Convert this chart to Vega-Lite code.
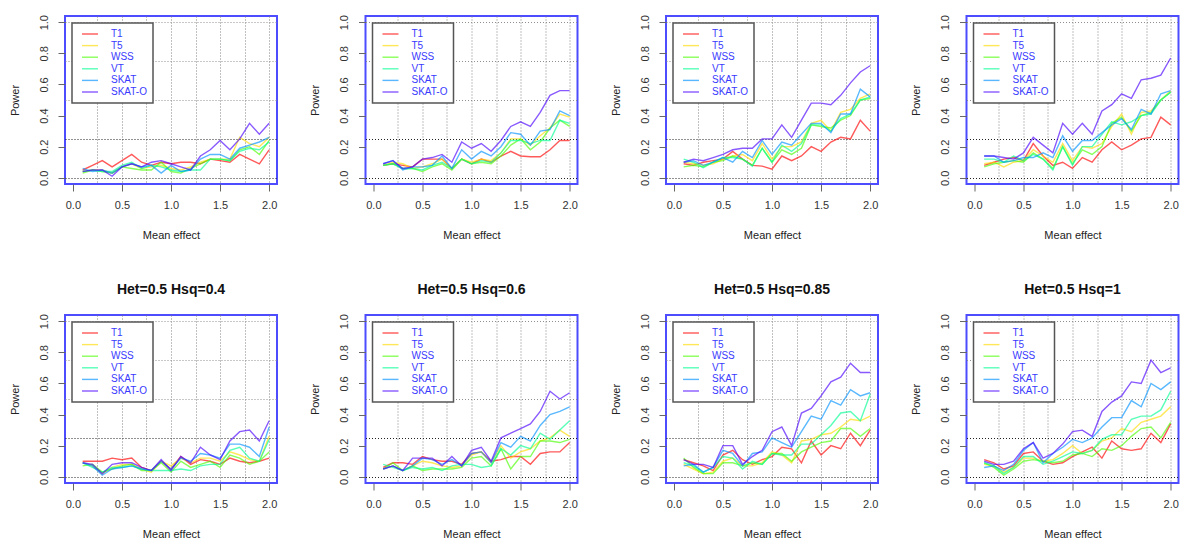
{
"$schema": "https://vega.github.io/schema/vega-lite/v6.json",
"padding": {"left": 8, "top": 13, "right": 4, "bottom": 0},
"datasets": {
"p1": [
{"m":"T1","x":0.1,"y":0.05},{"m":"T1","x":0.2,"y":0.08},{"m":"T1","x":0.3,"y":0.11},{"m":"T1","x":0.4,"y":0.07},{"m":"T1","x":0.5,"y":0.11},{"m":"T1","x":0.6,"y":0.15},{"m":"T1","x":0.7,"y":0.10},{"m":"T1","x":0.8,"y":0.08},{"m":"T1","x":0.9,"y":0.10},{"m":"T1","x":1.0,"y":0.09},{"m":"T1","x":1.1,"y":0.10},{"m":"T1","x":1.2,"y":0.10},{"m":"T1","x":1.3,"y":0.09},{"m":"T1","x":1.4,"y":0.12},{"m":"T1","x":1.5,"y":0.11},{"m":"T1","x":1.6,"y":0.10},{"m":"T1","x":1.7,"y":0.15},{"m":"T1","x":1.8,"y":0.12},{"m":"T1","x":1.9,"y":0.09},{"m":"T1","x":2.0,"y":0.18},
{"m":"T5","x":0.1,"y":0.04},{"m":"T5","x":0.2,"y":0.05},{"m":"T5","x":0.3,"y":0.05},{"m":"T5","x":0.4,"y":0.03},{"m":"T5","x":0.5,"y":0.07},{"m":"T5","x":0.6,"y":0.09},{"m":"T5","x":0.7,"y":0.06},{"m":"T5","x":0.8,"y":0.07},{"m":"T5","x":0.9,"y":0.08},{"m":"T5","x":1.0,"y":0.06},{"m":"T5","x":1.1,"y":0.05},{"m":"T5","x":1.2,"y":0.07},{"m":"T5","x":1.3,"y":0.10},{"m":"T5","x":1.4,"y":0.12},{"m":"T5","x":1.5,"y":0.12},{"m":"T5","x":1.6,"y":0.12},{"m":"T5","x":1.7,"y":0.26},{"m":"T5","x":1.8,"y":0.22},{"m":"T5","x":1.9,"y":0.20},{"m":"T5","x":2.0,"y":0.26},
{"m":"WSS","x":0.1,"y":0.03},{"m":"WSS","x":0.2,"y":0.05},{"m":"WSS","x":0.3,"y":0.04},{"m":"WSS","x":0.4,"y":0.03},{"m":"WSS","x":0.5,"y":0.07},{"m":"WSS","x":0.6,"y":0.06},{"m":"WSS","x":0.7,"y":0.05},{"m":"WSS","x":0.8,"y":0.05},{"m":"WSS","x":0.9,"y":0.10},{"m":"WSS","x":1.0,"y":0.04},{"m":"WSS","x":1.1,"y":0.03},{"m":"WSS","x":1.2,"y":0.06},{"m":"WSS","x":1.3,"y":0.09},{"m":"WSS","x":1.4,"y":0.12},{"m":"WSS","x":1.5,"y":0.12},{"m":"WSS","x":1.6,"y":0.11},{"m":"WSS","x":1.7,"y":0.18},{"m":"WSS","x":1.8,"y":0.20},{"m":"WSS","x":1.9,"y":0.15},{"m":"WSS","x":2.0,"y":0.24},
{"m":"VT","x":0.1,"y":0.04},{"m":"VT","x":0.2,"y":0.05},{"m":"VT","x":0.3,"y":0.04},{"m":"VT","x":0.4,"y":0.04},{"m":"VT","x":0.5,"y":0.08},{"m":"VT","x":0.6,"y":0.10},{"m":"VT","x":0.7,"y":0.06},{"m":"VT","x":0.8,"y":0.08},{"m":"VT","x":0.9,"y":0.07},{"m":"VT","x":1.0,"y":0.05},{"m":"VT","x":1.1,"y":0.04},{"m":"VT","x":1.2,"y":0.05},{"m":"VT","x":1.3,"y":0.05},{"m":"VT","x":1.4,"y":0.12},{"m":"VT","x":1.5,"y":0.12},{"m":"VT","x":1.6,"y":0.11},{"m":"VT","x":1.7,"y":0.17},{"m":"VT","x":1.8,"y":0.19},{"m":"VT","x":1.9,"y":0.18},{"m":"VT","x":2.0,"y":0.23},
{"m":"SKAT","x":0.1,"y":0.06},{"m":"SKAT","x":0.2,"y":0.04},{"m":"SKAT","x":0.3,"y":0.05},{"m":"SKAT","x":0.4,"y":0.03},{"m":"SKAT","x":0.5,"y":0.07},{"m":"SKAT","x":0.6,"y":0.09},{"m":"SKAT","x":0.7,"y":0.07},{"m":"SKAT","x":0.8,"y":0.08},{"m":"SKAT","x":0.9,"y":0.03},{"m":"SKAT","x":1.0,"y":0.08},{"m":"SKAT","x":1.1,"y":0.04},{"m":"SKAT","x":1.2,"y":0.05},{"m":"SKAT","x":1.3,"y":0.12},{"m":"SKAT","x":1.4,"y":0.15},{"m":"SKAT","x":1.5,"y":0.15},{"m":"SKAT","x":1.6,"y":0.12},{"m":"SKAT","x":1.7,"y":0.19},{"m":"SKAT","x":1.8,"y":0.21},{"m":"SKAT","x":1.9,"y":0.23},{"m":"SKAT","x":2.0,"y":0.26},
{"m":"SKAT-O","x":0.1,"y":0.04},{"m":"SKAT-O","x":0.2,"y":0.05},{"m":"SKAT-O","x":0.3,"y":0.05},{"m":"SKAT-O","x":0.4,"y":0.01},{"m":"SKAT-O","x":0.5,"y":0.07},{"m":"SKAT-O","x":0.6,"y":0.09},{"m":"SKAT-O","x":0.7,"y":0.07},{"m":"SKAT-O","x":0.8,"y":0.10},{"m":"SKAT-O","x":0.9,"y":0.11},{"m":"SKAT-O","x":1.0,"y":0.09},{"m":"SKAT-O","x":1.1,"y":0.07},{"m":"SKAT-O","x":1.2,"y":0.05},{"m":"SKAT-O","x":1.3,"y":0.14},{"m":"SKAT-O","x":1.4,"y":0.18},{"m":"SKAT-O","x":1.5,"y":0.24},{"m":"SKAT-O","x":1.6,"y":0.18},{"m":"SKAT-O","x":1.7,"y":0.25},{"m":"SKAT-O","x":1.8,"y":0.35},{"m":"SKAT-O","x":1.9,"y":0.28},{"m":"SKAT-O","x":2.0,"y":0.35}
],
"p2": [
{"m":"T1","x":0.1,"y":0.08},{"m":"T1","x":0.2,"y":0.09},{"m":"T1","x":0.3,"y":0.08},{"m":"T1","x":0.4,"y":0.07},{"m":"T1","x":0.5,"y":0.12},{"m":"T1","x":0.6,"y":0.12},{"m":"T1","x":0.7,"y":0.12},{"m":"T1","x":0.8,"y":0.06},{"m":"T1","x":0.9,"y":0.12},{"m":"T1","x":1.0,"y":0.09},{"m":"T1","x":1.1,"y":0.12},{"m":"T1","x":1.2,"y":0.10},{"m":"T1","x":1.3,"y":0.14},{"m":"T1","x":1.4,"y":0.17},{"m":"T1","x":1.5,"y":0.14},{"m":"T1","x":1.6,"y":0.135},{"m":"T1","x":1.7,"y":0.135},{"m":"T1","x":1.8,"y":0.18},{"m":"T1","x":1.9,"y":0.24},{"m":"T1","x":2.0,"y":0.24},
{"m":"T5","x":0.1,"y":0.08},{"m":"T5","x":0.2,"y":0.10},{"m":"T5","x":0.3,"y":0.09},{"m":"T5","x":0.4,"y":0.06},{"m":"T5","x":0.5,"y":0.07},{"m":"T5","x":0.6,"y":0.09},{"m":"T5","x":0.7,"y":0.12},{"m":"T5","x":0.8,"y":0.06},{"m":"T5","x":0.9,"y":0.12},{"m":"T5","x":1.0,"y":0.10},{"m":"T5","x":1.1,"y":0.12},{"m":"T5","x":1.2,"y":0.11},{"m":"T5","x":1.3,"y":0.16},{"m":"T5","x":1.4,"y":0.25},{"m":"T5","x":1.5,"y":0.25},{"m":"T5","x":1.6,"y":0.21},{"m":"T5","x":1.7,"y":0.27},{"m":"T5","x":1.8,"y":0.32},{"m":"T5","x":1.9,"y":0.41},{"m":"T5","x":2.0,"y":0.39},
{"m":"WSS","x":0.1,"y":0.08},{"m":"WSS","x":0.2,"y":0.09},{"m":"WSS","x":0.3,"y":0.06},{"m":"WSS","x":0.4,"y":0.06},{"m":"WSS","x":0.5,"y":0.04},{"m":"WSS","x":0.6,"y":0.07},{"m":"WSS","x":0.7,"y":0.09},{"m":"WSS","x":0.8,"y":0.05},{"m":"WSS","x":0.9,"y":0.12},{"m":"WSS","x":1.0,"y":0.09},{"m":"WSS","x":1.1,"y":0.10},{"m":"WSS","x":1.2,"y":0.09},{"m":"WSS","x":1.3,"y":0.14},{"m":"WSS","x":1.4,"y":0.21},{"m":"WSS","x":1.5,"y":0.25},{"m":"WSS","x":1.6,"y":0.18},{"m":"WSS","x":1.7,"y":0.23},{"m":"WSS","x":1.8,"y":0.32},{"m":"WSS","x":1.9,"y":0.37},{"m":"WSS","x":2.0,"y":0.33},
{"m":"VT","x":0.1,"y":0.08},{"m":"VT","x":0.2,"y":0.09},{"m":"VT","x":0.3,"y":0.06},{"m":"VT","x":0.4,"y":0.06},{"m":"VT","x":0.5,"y":0.05},{"m":"VT","x":0.6,"y":0.08},{"m":"VT","x":0.7,"y":0.10},{"m":"VT","x":0.8,"y":0.06},{"m":"VT","x":0.9,"y":0.12},{"m":"VT","x":1.0,"y":0.09},{"m":"VT","x":1.1,"y":0.11},{"m":"VT","x":1.2,"y":0.10},{"m":"VT","x":1.3,"y":0.16},{"m":"VT","x":1.4,"y":0.24},{"m":"VT","x":1.5,"y":0.24},{"m":"VT","x":1.6,"y":0.22},{"m":"VT","x":1.7,"y":0.24},{"m":"VT","x":1.8,"y":0.24},{"m":"VT","x":1.9,"y":0.37},{"m":"VT","x":2.0,"y":0.35},
{"m":"SKAT","x":0.1,"y":0.09},{"m":"SKAT","x":0.2,"y":0.11},{"m":"SKAT","x":0.3,"y":0.05},{"m":"SKAT","x":0.4,"y":0.07},{"m":"SKAT","x":0.5,"y":0.07},{"m":"SKAT","x":0.6,"y":0.08},{"m":"SKAT","x":0.7,"y":0.14},{"m":"SKAT","x":0.8,"y":0.06},{"m":"SKAT","x":0.9,"y":0.18},{"m":"SKAT","x":1.0,"y":0.12},{"m":"SKAT","x":1.1,"y":0.17},{"m":"SKAT","x":1.2,"y":0.14},{"m":"SKAT","x":1.3,"y":0.20},{"m":"SKAT","x":1.4,"y":0.29},{"m":"SKAT","x":1.5,"y":0.28},{"m":"SKAT","x":1.6,"y":0.21},{"m":"SKAT","x":1.7,"y":0.30},{"m":"SKAT","x":1.8,"y":0.31},{"m":"SKAT","x":1.9,"y":0.43},{"m":"SKAT","x":2.0,"y":0.40},
{"m":"SKAT-O","x":0.1,"y":0.09},{"m":"SKAT-O","x":0.2,"y":0.11},{"m":"SKAT-O","x":0.3,"y":0.06},{"m":"SKAT-O","x":0.4,"y":0.07},{"m":"SKAT-O","x":0.5,"y":0.12},{"m":"SKAT-O","x":0.6,"y":0.13},{"m":"SKAT-O","x":0.7,"y":0.15},{"m":"SKAT-O","x":0.8,"y":0.10},{"m":"SKAT-O","x":0.9,"y":0.23},{"m":"SKAT-O","x":1.0,"y":0.19},{"m":"SKAT-O","x":1.1,"y":0.22},{"m":"SKAT-O","x":1.2,"y":0.17},{"m":"SKAT-O","x":1.3,"y":0.24},{"m":"SKAT-O","x":1.4,"y":0.33},{"m":"SKAT-O","x":1.5,"y":0.36},{"m":"SKAT-O","x":1.6,"y":0.33},{"m":"SKAT-O","x":1.7,"y":0.42},{"m":"SKAT-O","x":1.8,"y":0.53},{"m":"SKAT-O","x":1.9,"y":0.56},{"m":"SKAT-O","x":2.0,"y":0.56}
],
"p3": [
{"m":"T1","x":0.1,"y":0.09},{"m":"T1","x":0.2,"y":0.08},{"m":"T1","x":0.3,"y":0.10},{"m":"T1","x":0.4,"y":0.11},{"m":"T1","x":0.5,"y":0.12},{"m":"T1","x":0.6,"y":0.17},{"m":"T1","x":0.7,"y":0.12},{"m":"T1","x":0.8,"y":0.08},{"m":"T1","x":0.9,"y":0.075},{"m":"T1","x":1.0,"y":0.055},{"m":"T1","x":1.1,"y":0.14},{"m":"T1","x":1.2,"y":0.11},{"m":"T1","x":1.3,"y":0.14},{"m":"T1","x":1.4,"y":0.20},{"m":"T1","x":1.5,"y":0.17},{"m":"T1","x":1.6,"y":0.23},{"m":"T1","x":1.7,"y":0.26},{"m":"T1","x":1.8,"y":0.25},{"m":"T1","x":1.9,"y":0.37},{"m":"T1","x":2.0,"y":0.30},
{"m":"T5","x":0.1,"y":0.10},{"m":"T5","x":0.2,"y":0.09},{"m":"T5","x":0.3,"y":0.08},{"m":"T5","x":0.4,"y":0.09},{"m":"T5","x":0.5,"y":0.12},{"m":"T5","x":0.6,"y":0.14},{"m":"T5","x":0.7,"y":0.15},{"m":"T5","x":0.8,"y":0.11},{"m":"T5","x":0.9,"y":0.22},{"m":"T5","x":1.0,"y":0.12},{"m":"T5","x":1.1,"y":0.20},{"m":"T5","x":1.2,"y":0.20},{"m":"T5","x":1.3,"y":0.23},{"m":"T5","x":1.4,"y":0.35},{"m":"T5","x":1.5,"y":0.37},{"m":"T5","x":1.6,"y":0.30},{"m":"T5","x":1.7,"y":0.42},{"m":"T5","x":1.8,"y":0.44},{"m":"T5","x":1.9,"y":0.51},{"m":"T5","x":2.0,"y":0.54},
{"m":"WSS","x":0.1,"y":0.07},{"m":"WSS","x":0.2,"y":0.08},{"m":"WSS","x":0.3,"y":0.07},{"m":"WSS","x":0.4,"y":0.10},{"m":"WSS","x":0.5,"y":0.11},{"m":"WSS","x":0.6,"y":0.14},{"m":"WSS","x":0.7,"y":0.12},{"m":"WSS","x":0.8,"y":0.08},{"m":"WSS","x":0.9,"y":0.19},{"m":"WSS","x":1.0,"y":0.10},{"m":"WSS","x":1.1,"y":0.18},{"m":"WSS","x":1.2,"y":0.15},{"m":"WSS","x":1.3,"y":0.19},{"m":"WSS","x":1.4,"y":0.34},{"m":"WSS","x":1.5,"y":0.33},{"m":"WSS","x":1.6,"y":0.32},{"m":"WSS","x":1.7,"y":0.37},{"m":"WSS","x":1.8,"y":0.40},{"m":"WSS","x":1.9,"y":0.50},{"m":"WSS","x":2.0,"y":0.51},
{"m":"VT","x":0.1,"y":0.12},{"m":"VT","x":0.2,"y":0.10},{"m":"VT","x":0.3,"y":0.065},{"m":"VT","x":0.4,"y":0.10},{"m":"VT","x":0.5,"y":0.13},{"m":"VT","x":0.6,"y":0.13},{"m":"VT","x":0.7,"y":0.12},{"m":"VT","x":0.8,"y":0.075},{"m":"VT","x":0.9,"y":0.19},{"m":"VT","x":1.0,"y":0.10},{"m":"VT","x":1.1,"y":0.21},{"m":"VT","x":1.2,"y":0.17},{"m":"VT","x":1.3,"y":0.22},{"m":"VT","x":1.4,"y":0.34},{"m":"VT","x":1.5,"y":0.34},{"m":"VT","x":1.6,"y":0.30},{"m":"VT","x":1.7,"y":0.38},{"m":"VT","x":1.8,"y":0.41},{"m":"VT","x":1.9,"y":0.50},{"m":"VT","x":2.0,"y":0.52},
{"m":"SKAT","x":0.1,"y":0.10},{"m":"SKAT","x":0.2,"y":0.11},{"m":"SKAT","x":0.3,"y":0.08},{"m":"SKAT","x":0.4,"y":0.10},{"m":"SKAT","x":0.5,"y":0.13},{"m":"SKAT","x":0.6,"y":0.10},{"m":"SKAT","x":0.7,"y":0.17},{"m":"SKAT","x":0.8,"y":0.13},{"m":"SKAT","x":0.9,"y":0.24},{"m":"SKAT","x":1.0,"y":0.15},{"m":"SKAT","x":1.1,"y":0.23},{"m":"SKAT","x":1.2,"y":0.21},{"m":"SKAT","x":1.3,"y":0.28},{"m":"SKAT","x":1.4,"y":0.35},{"m":"SKAT","x":1.5,"y":0.35},{"m":"SKAT","x":1.6,"y":0.29},{"m":"SKAT","x":1.7,"y":0.41},{"m":"SKAT","x":1.8,"y":0.41},{"m":"SKAT","x":1.9,"y":0.57},{"m":"SKAT","x":2.0,"y":0.52},
{"m":"SKAT-O","x":0.1,"y":0.10},{"m":"SKAT-O","x":0.2,"y":0.12},{"m":"SKAT-O","x":0.3,"y":0.11},{"m":"SKAT-O","x":0.4,"y":0.13},{"m":"SKAT-O","x":0.5,"y":0.15},{"m":"SKAT-O","x":0.6,"y":0.18},{"m":"SKAT-O","x":0.7,"y":0.19},{"m":"SKAT-O","x":0.8,"y":0.19},{"m":"SKAT-O","x":0.9,"y":0.25},{"m":"SKAT-O","x":1.0,"y":0.25},{"m":"SKAT-O","x":1.1,"y":0.34},{"m":"SKAT-O","x":1.2,"y":0.26},{"m":"SKAT-O","x":1.3,"y":0.37},{"m":"SKAT-O","x":1.4,"y":0.48},{"m":"SKAT-O","x":1.5,"y":0.48},{"m":"SKAT-O","x":1.6,"y":0.47},{"m":"SKAT-O","x":1.7,"y":0.53},{"m":"SKAT-O","x":1.8,"y":0.61},{"m":"SKAT-O","x":1.9,"y":0.68},{"m":"SKAT-O","x":2.0,"y":0.72}
],
"p4": [
{"m":"T1","x":0.1,"y":0.08},{"m":"T1","x":0.2,"y":0.10},{"m":"T1","x":0.3,"y":0.12},{"m":"T1","x":0.4,"y":0.13},{"m":"T1","x":0.5,"y":0.11},{"m":"T1","x":0.6,"y":0.22},{"m":"T1","x":0.7,"y":0.14},{"m":"T1","x":0.8,"y":0.08},{"m":"T1","x":0.9,"y":0.10},{"m":"T1","x":1.0,"y":0.06},{"m":"T1","x":1.1,"y":0.13},{"m":"T1","x":1.2,"y":0.10},{"m":"T1","x":1.3,"y":0.18},{"m":"T1","x":1.4,"y":0.23},{"m":"T1","x":1.5,"y":0.18},{"m":"T1","x":1.6,"y":0.21},{"m":"T1","x":1.7,"y":0.25},{"m":"T1","x":1.8,"y":0.26},{"m":"T1","x":1.9,"y":0.39},{"m":"T1","x":2.0,"y":0.34},
{"m":"T5","x":0.1,"y":0.09},{"m":"T5","x":0.2,"y":0.10},{"m":"T5","x":0.3,"y":0.07},{"m":"T5","x":0.4,"y":0.10},{"m":"T5","x":0.5,"y":0.11},{"m":"T5","x":0.6,"y":0.18},{"m":"T5","x":0.7,"y":0.14},{"m":"T5","x":0.8,"y":0.10},{"m":"T5","x":0.9,"y":0.22},{"m":"T5","x":1.0,"y":0.11},{"m":"T5","x":1.1,"y":0.20},{"m":"T5","x":1.2,"y":0.19},{"m":"T5","x":1.3,"y":0.22},{"m":"T5","x":1.4,"y":0.33},{"m":"T5","x":1.5,"y":0.41},{"m":"T5","x":1.6,"y":0.28},{"m":"T5","x":1.7,"y":0.42},{"m":"T5","x":1.8,"y":0.43},{"m":"T5","x":1.9,"y":0.50},{"m":"T5","x":2.0,"y":0.56},
{"m":"WSS","x":0.1,"y":0.07},{"m":"WSS","x":0.2,"y":0.09},{"m":"WSS","x":0.3,"y":0.10},{"m":"WSS","x":0.4,"y":0.11},{"m":"WSS","x":0.5,"y":0.10},{"m":"WSS","x":0.6,"y":0.16},{"m":"WSS","x":0.7,"y":0.12},{"m":"WSS","x":0.8,"y":0.06},{"m":"WSS","x":0.9,"y":0.20},{"m":"WSS","x":1.0,"y":0.09},{"m":"WSS","x":1.1,"y":0.18},{"m":"WSS","x":1.2,"y":0.15},{"m":"WSS","x":1.3,"y":0.20},{"m":"WSS","x":1.4,"y":0.35},{"m":"WSS","x":1.5,"y":0.39},{"m":"WSS","x":1.6,"y":0.30},{"m":"WSS","x":1.7,"y":0.40},{"m":"WSS","x":1.8,"y":0.42},{"m":"WSS","x":1.9,"y":0.50},{"m":"WSS","x":2.0,"y":0.55},
{"m":"VT","x":0.1,"y":0.12},{"m":"VT","x":0.2,"y":0.12},{"m":"VT","x":0.3,"y":0.10},{"m":"VT","x":0.4,"y":0.14},{"m":"VT","x":0.5,"y":0.11},{"m":"VT","x":0.6,"y":0.15},{"m":"VT","x":0.7,"y":0.12},{"m":"VT","x":0.8,"y":0.05},{"m":"VT","x":0.9,"y":0.20},{"m":"VT","x":1.0,"y":0.08},{"m":"VT","x":1.1,"y":0.20},{"m":"VT","x":1.2,"y":0.20},{"m":"VT","x":1.3,"y":0.28},{"m":"VT","x":1.4,"y":0.36},{"m":"VT","x":1.5,"y":0.34},{"m":"VT","x":1.6,"y":0.36},{"m":"VT","x":1.7,"y":0.40},{"m":"VT","x":1.8,"y":0.41},{"m":"VT","x":1.9,"y":0.50},{"m":"VT","x":2.0,"y":0.55},
{"m":"SKAT","x":0.1,"y":0.14},{"m":"SKAT","x":0.2,"y":0.14},{"m":"SKAT","x":0.3,"y":0.10},{"m":"SKAT","x":0.4,"y":0.11},{"m":"SKAT","x":0.5,"y":0.13},{"m":"SKAT","x":0.6,"y":0.13},{"m":"SKAT","x":0.7,"y":0.16},{"m":"SKAT","x":0.8,"y":0.13},{"m":"SKAT","x":0.9,"y":0.27},{"m":"SKAT","x":1.0,"y":0.17},{"m":"SKAT","x":1.1,"y":0.24},{"m":"SKAT","x":1.2,"y":0.24},{"m":"SKAT","x":1.3,"y":0.29},{"m":"SKAT","x":1.4,"y":0.34},{"m":"SKAT","x":1.5,"y":0.38},{"m":"SKAT","x":1.6,"y":0.31},{"m":"SKAT","x":1.7,"y":0.44},{"m":"SKAT","x":1.8,"y":0.41},{"m":"SKAT","x":1.9,"y":0.54},{"m":"SKAT","x":2.0,"y":0.56},
{"m":"SKAT-O","x":0.1,"y":0.14},{"m":"SKAT-O","x":0.2,"y":0.14},{"m":"SKAT-O","x":0.3,"y":0.13},{"m":"SKAT-O","x":0.4,"y":0.12},{"m":"SKAT-O","x":0.5,"y":0.16},{"m":"SKAT-O","x":0.6,"y":0.26},{"m":"SKAT-O","x":0.7,"y":0.21},{"m":"SKAT-O","x":0.8,"y":0.16},{"m":"SKAT-O","x":0.9,"y":0.35},{"m":"SKAT-O","x":1.0,"y":0.28},{"m":"SKAT-O","x":1.1,"y":0.35},{"m":"SKAT-O","x":1.2,"y":0.28},{"m":"SKAT-O","x":1.3,"y":0.43},{"m":"SKAT-O","x":1.4,"y":0.47},{"m":"SKAT-O","x":1.5,"y":0.54},{"m":"SKAT-O","x":1.6,"y":0.51},{"m":"SKAT-O","x":1.7,"y":0.63},{"m":"SKAT-O","x":1.8,"y":0.64},{"m":"SKAT-O","x":1.9,"y":0.66},{"m":"SKAT-O","x":2.0,"y":0.77}
],
"p5": [
{"m":"T1","x":0.1,"y":0.10},{"m":"T1","x":0.2,"y":0.10},{"m":"T1","x":0.3,"y":0.10},{"m":"T1","x":0.4,"y":0.12},{"m":"T1","x":0.5,"y":0.11},{"m":"T1","x":0.6,"y":0.12},{"m":"T1","x":0.7,"y":0.06},{"m":"T1","x":0.8,"y":0.04},{"m":"T1","x":0.9,"y":0.10},{"m":"T1","x":1.0,"y":0.05},{"m":"T1","x":1.1,"y":0.13},{"m":"T1","x":1.2,"y":0.08},{"m":"T1","x":1.3,"y":0.11},{"m":"T1","x":1.4,"y":0.10},{"m":"T1","x":1.5,"y":0.08},{"m":"T1","x":1.6,"y":0.12},{"m":"T1","x":1.7,"y":0.10},{"m":"T1","x":1.8,"y":0.09},{"m":"T1","x":1.9,"y":0.10},{"m":"T1","x":2.0,"y":0.12},
{"m":"T5","x":0.1,"y":0.09},{"m":"T5","x":0.2,"y":0.07},{"m":"T5","x":0.3,"y":0.02},{"m":"T5","x":0.4,"y":0.06},{"m":"T5","x":0.5,"y":0.08},{"m":"T5","x":0.6,"y":0.08},{"m":"T5","x":0.7,"y":0.05},{"m":"T5","x":0.8,"y":0.03},{"m":"T5","x":0.9,"y":0.10},{"m":"T5","x":1.0,"y":0.07},{"m":"T5","x":1.1,"y":0.12},{"m":"T5","x":1.2,"y":0.09},{"m":"T5","x":1.3,"y":0.12},{"m":"T5","x":1.4,"y":0.12},{"m":"T5","x":1.5,"y":0.10},{"m":"T5","x":1.6,"y":0.16},{"m":"T5","x":1.7,"y":0.14},{"m":"T5","x":1.8,"y":0.11},{"m":"T5","x":1.9,"y":0.10},{"m":"T5","x":2.0,"y":0.26},
{"m":"WSS","x":0.1,"y":0.07},{"m":"WSS","x":0.2,"y":0.08},{"m":"WSS","x":0.3,"y":0.03},{"m":"WSS","x":0.4,"y":0.05},{"m":"WSS","x":0.5,"y":0.07},{"m":"WSS","x":0.6,"y":0.08},{"m":"WSS","x":0.7,"y":0.04},{"m":"WSS","x":0.8,"y":0.04},{"m":"WSS","x":0.9,"y":0.09},{"m":"WSS","x":1.0,"y":0.03},{"m":"WSS","x":1.1,"y":0.10},{"m":"WSS","x":1.2,"y":0.06},{"m":"WSS","x":1.3,"y":0.08},{"m":"WSS","x":1.4,"y":0.10},{"m":"WSS","x":1.5,"y":0.06},{"m":"WSS","x":1.6,"y":0.14},{"m":"WSS","x":1.7,"y":0.12},{"m":"WSS","x":1.8,"y":0.08},{"m":"WSS","x":1.9,"y":0.10},{"m":"WSS","x":2.0,"y":0.16},
{"m":"VT","x":0.1,"y":0.09},{"m":"VT","x":0.2,"y":0.06},{"m":"VT","x":0.3,"y":0.03},{"m":"VT","x":0.4,"y":0.06},{"m":"VT","x":0.5,"y":0.06},{"m":"VT","x":0.6,"y":0.07},{"m":"VT","x":0.7,"y":0.05},{"m":"VT","x":0.8,"y":0.04},{"m":"VT","x":0.9,"y":0.04},{"m":"VT","x":1.0,"y":0.04},{"m":"VT","x":1.1,"y":0.05},{"m":"VT","x":1.2,"y":0.04},{"m":"VT","x":1.3,"y":0.07},{"m":"VT","x":1.4,"y":0.08},{"m":"VT","x":1.5,"y":0.08},{"m":"VT","x":1.6,"y":0.17},{"m":"VT","x":1.7,"y":0.19},{"m":"VT","x":1.8,"y":0.12},{"m":"VT","x":1.9,"y":0.10},{"m":"VT","x":2.0,"y":0.24},
{"m":"SKAT","x":0.1,"y":0.09},{"m":"SKAT","x":0.2,"y":0.07},{"m":"SKAT","x":0.3,"y":0.01},{"m":"SKAT","x":0.4,"y":0.05},{"m":"SKAT","x":0.5,"y":0.06},{"m":"SKAT","x":0.6,"y":0.07},{"m":"SKAT","x":0.7,"y":0.05},{"m":"SKAT","x":0.8,"y":0.04},{"m":"SKAT","x":0.9,"y":0.10},{"m":"SKAT","x":1.0,"y":0.05},{"m":"SKAT","x":1.1,"y":0.12},{"m":"SKAT","x":1.2,"y":0.10},{"m":"SKAT","x":1.3,"y":0.15},{"m":"SKAT","x":1.4,"y":0.14},{"m":"SKAT","x":1.5,"y":0.12},{"m":"SKAT","x":1.6,"y":0.21},{"m":"SKAT","x":1.7,"y":0.21},{"m":"SKAT","x":1.8,"y":0.19},{"m":"SKAT","x":1.9,"y":0.13},{"m":"SKAT","x":2.0,"y":0.32},
{"m":"SKAT-O","x":0.1,"y":0.09},{"m":"SKAT-O","x":0.2,"y":0.08},{"m":"SKAT-O","x":0.3,"y":0.02},{"m":"SKAT-O","x":0.4,"y":0.08},{"m":"SKAT-O","x":0.5,"y":0.09},{"m":"SKAT-O","x":0.6,"y":0.09},{"m":"SKAT-O","x":0.7,"y":0.06},{"m":"SKAT-O","x":0.8,"y":0.04},{"m":"SKAT-O","x":0.9,"y":0.11},{"m":"SKAT-O","x":1.0,"y":0.04},{"m":"SKAT-O","x":1.1,"y":0.13},{"m":"SKAT-O","x":1.2,"y":0.09},{"m":"SKAT-O","x":1.3,"y":0.19},{"m":"SKAT-O","x":1.4,"y":0.14},{"m":"SKAT-O","x":1.5,"y":0.11},{"m":"SKAT-O","x":1.6,"y":0.23},{"m":"SKAT-O","x":1.7,"y":0.29},{"m":"SKAT-O","x":1.8,"y":0.30},{"m":"SKAT-O","x":1.9,"y":0.23},{"m":"SKAT-O","x":2.0,"y":0.36}
],
"p6": [
{"m":"T1","x":0.1,"y":0.06},{"m":"T1","x":0.2,"y":0.09},{"m":"T1","x":0.3,"y":0.09},{"m":"T1","x":0.4,"y":0.08},{"m":"T1","x":0.5,"y":0.13},{"m":"T1","x":0.6,"y":0.11},{"m":"T1","x":0.7,"y":0.10},{"m":"T1","x":0.8,"y":0.10},{"m":"T1","x":0.9,"y":0.08},{"m":"T1","x":1.0,"y":0.15},{"m":"T1","x":1.1,"y":0.16},{"m":"T1","x":1.2,"y":0.10},{"m":"T1","x":1.3,"y":0.11},{"m":"T1","x":1.4,"y":0.13},{"m":"T1","x":1.5,"y":0.13},{"m":"T1","x":1.6,"y":0.08},{"m":"T1","x":1.7,"y":0.15},{"m":"T1","x":1.8,"y":0.16},{"m":"T1","x":1.9,"y":0.16},{"m":"T1","x":2.0,"y":0.22},
{"m":"T5","x":0.1,"y":0.05},{"m":"T5","x":0.2,"y":0.07},{"m":"T5","x":0.3,"y":0.04},{"m":"T5","x":0.4,"y":0.07},{"m":"T5","x":0.5,"y":0.10},{"m":"T5","x":0.6,"y":0.09},{"m":"T5","x":0.7,"y":0.07},{"m":"T5","x":0.8,"y":0.06},{"m":"T5","x":0.9,"y":0.07},{"m":"T5","x":1.0,"y":0.14},{"m":"T5","x":1.1,"y":0.16},{"m":"T5","x":1.2,"y":0.09},{"m":"T5","x":1.3,"y":0.20},{"m":"T5","x":1.4,"y":0.12},{"m":"T5","x":1.5,"y":0.16},{"m":"T5","x":1.6,"y":0.18},{"m":"T5","x":1.7,"y":0.23},{"m":"T5","x":1.8,"y":0.25},{"m":"T5","x":1.9,"y":0.30},{"m":"T5","x":2.0,"y":0.26},
{"m":"WSS","x":0.1,"y":0.05},{"m":"WSS","x":0.2,"y":0.09},{"m":"WSS","x":0.3,"y":0.04},{"m":"WSS","x":0.4,"y":0.07},{"m":"WSS","x":0.5,"y":0.04},{"m":"WSS","x":0.6,"y":0.05},{"m":"WSS","x":0.7,"y":0.05},{"m":"WSS","x":0.8,"y":0.05},{"m":"WSS","x":0.9,"y":0.06},{"m":"WSS","x":1.0,"y":0.12},{"m":"WSS","x":1.1,"y":0.13},{"m":"WSS","x":1.2,"y":0.07},{"m":"WSS","x":1.3,"y":0.18},{"m":"WSS","x":1.4,"y":0.05},{"m":"WSS","x":1.5,"y":0.13},{"m":"WSS","x":1.6,"y":0.13},{"m":"WSS","x":1.7,"y":0.23},{"m":"WSS","x":1.8,"y":0.23},{"m":"WSS","x":1.9,"y":0.22},{"m":"WSS","x":2.0,"y":0.24},
{"m":"VT","x":0.1,"y":0.08},{"m":"VT","x":0.2,"y":0.06},{"m":"VT","x":0.3,"y":0.04},{"m":"VT","x":0.4,"y":0.06},{"m":"VT","x":0.5,"y":0.05},{"m":"VT","x":0.6,"y":0.06},{"m":"VT","x":0.7,"y":0.04},{"m":"VT","x":0.8,"y":0.07},{"m":"VT","x":0.9,"y":0.08},{"m":"VT","x":1.0,"y":0.08},{"m":"VT","x":1.1,"y":0.06},{"m":"VT","x":1.2,"y":0.07},{"m":"VT","x":1.3,"y":0.18},{"m":"VT","x":1.4,"y":0.14},{"m":"VT","x":1.5,"y":0.20},{"m":"VT","x":1.6,"y":0.18},{"m":"VT","x":1.7,"y":0.28},{"m":"VT","x":1.8,"y":0.24},{"m":"VT","x":1.9,"y":0.30},{"m":"VT","x":2.0,"y":0.36},
{"m":"SKAT","x":0.1,"y":0.05},{"m":"SKAT","x":0.2,"y":0.07},{"m":"SKAT","x":0.3,"y":0.04},{"m":"SKAT","x":0.4,"y":0.07},{"m":"SKAT","x":0.5,"y":0.12},{"m":"SKAT","x":0.6,"y":0.11},{"m":"SKAT","x":0.7,"y":0.08},{"m":"SKAT","x":0.8,"y":0.11},{"m":"SKAT","x":0.9,"y":0.07},{"m":"SKAT","x":1.0,"y":0.15},{"m":"SKAT","x":1.1,"y":0.16},{"m":"SKAT","x":1.2,"y":0.09},{"m":"SKAT","x":1.3,"y":0.22},{"m":"SKAT","x":1.4,"y":0.19},{"m":"SKAT","x":1.5,"y":0.26},{"m":"SKAT","x":1.6,"y":0.23},{"m":"SKAT","x":1.7,"y":0.33},{"m":"SKAT","x":1.8,"y":0.40},{"m":"SKAT","x":1.9,"y":0.42},{"m":"SKAT","x":2.0,"y":0.45},
{"m":"SKAT-O","x":0.1,"y":0.05},{"m":"SKAT-O","x":0.2,"y":0.07},{"m":"SKAT-O","x":0.3,"y":0.04},{"m":"SKAT-O","x":0.4,"y":0.12},{"m":"SKAT-O","x":0.5,"y":0.12},{"m":"SKAT-O","x":0.6,"y":0.12},{"m":"SKAT-O","x":0.7,"y":0.07},{"m":"SKAT-O","x":0.8,"y":0.13},{"m":"SKAT-O","x":0.9,"y":0.07},{"m":"SKAT-O","x":1.0,"y":0.17},{"m":"SKAT-O","x":1.1,"y":0.19},{"m":"SKAT-O","x":1.2,"y":0.10},{"m":"SKAT-O","x":1.3,"y":0.25},{"m":"SKAT-O","x":1.4,"y":0.28},{"m":"SKAT-O","x":1.5,"y":0.31},{"m":"SKAT-O","x":1.6,"y":0.34},{"m":"SKAT-O","x":1.7,"y":0.42},{"m":"SKAT-O","x":1.8,"y":0.55},{"m":"SKAT-O","x":1.9,"y":0.50},{"m":"SKAT-O","x":2.0,"y":0.54}
],
"p7": [
{"m":"T1","x":0.1,"y":0.11},{"m":"T1","x":0.2,"y":0.09},{"m":"T1","x":0.3,"y":0.07},{"m":"T1","x":0.4,"y":0.04},{"m":"T1","x":0.5,"y":0.14},{"m":"T1","x":0.6,"y":0.17},{"m":"T1","x":0.7,"y":0.11},{"m":"T1","x":0.8,"y":0.08},{"m":"T1","x":0.9,"y":0.11},{"m":"T1","x":1.0,"y":0.13},{"m":"T1","x":1.1,"y":0.19},{"m":"T1","x":1.2,"y":0.18},{"m":"T1","x":1.3,"y":0.09},{"m":"T1","x":1.4,"y":0.23},{"m":"T1","x":1.5,"y":0.14},{"m":"T1","x":1.6,"y":0.20},{"m":"T1","x":1.7,"y":0.18},{"m":"T1","x":1.8,"y":0.28},{"m":"T1","x":1.9,"y":0.20},{"m":"T1","x":2.0,"y":0.30},
{"m":"T5","x":0.1,"y":0.08},{"m":"T5","x":0.2,"y":0.05},{"m":"T5","x":0.3,"y":0.02},{"m":"T5","x":0.4,"y":0.03},{"m":"T5","x":0.5,"y":0.10},{"m":"T5","x":0.6,"y":0.12},{"m":"T5","x":0.7,"y":0.07},{"m":"T5","x":0.8,"y":0.07},{"m":"T5","x":0.9,"y":0.09},{"m":"T5","x":1.0,"y":0.16},{"m":"T5","x":1.1,"y":0.14},{"m":"T5","x":1.2,"y":0.09},{"m":"T5","x":1.3,"y":0.23},{"m":"T5","x":1.4,"y":0.24},{"m":"T5","x":1.5,"y":0.27},{"m":"T5","x":1.6,"y":0.28},{"m":"T5","x":1.7,"y":0.32},{"m":"T5","x":1.8,"y":0.37},{"m":"T5","x":1.9,"y":0.36},{"m":"T5","x":2.0,"y":0.39},
{"m":"WSS","x":0.1,"y":0.12},{"m":"WSS","x":0.2,"y":0.06},{"m":"WSS","x":0.3,"y":0.02},{"m":"WSS","x":0.4,"y":0.02},{"m":"WSS","x":0.5,"y":0.09},{"m":"WSS","x":0.6,"y":0.09},{"m":"WSS","x":0.7,"y":0.07},{"m":"WSS","x":0.8,"y":0.09},{"m":"WSS","x":0.9,"y":0.08},{"m":"WSS","x":1.0,"y":0.15},{"m":"WSS","x":1.1,"y":0.15},{"m":"WSS","x":1.2,"y":0.10},{"m":"WSS","x":1.3,"y":0.16},{"m":"WSS","x":1.4,"y":0.19},{"m":"WSS","x":1.5,"y":0.22},{"m":"WSS","x":1.6,"y":0.23},{"m":"WSS","x":1.7,"y":0.31},{"m":"WSS","x":1.8,"y":0.31},{"m":"WSS","x":1.9,"y":0.26},{"m":"WSS","x":2.0,"y":0.31},
{"m":"VT","x":0.1,"y":0.09},{"m":"VT","x":0.2,"y":0.07},{"m":"VT","x":0.3,"y":0.03},{"m":"VT","x":0.4,"y":0.06},{"m":"VT","x":0.5,"y":0.13},{"m":"VT","x":0.6,"y":0.12},{"m":"VT","x":0.7,"y":0.05},{"m":"VT","x":0.8,"y":0.10},{"m":"VT","x":0.9,"y":0.08},{"m":"VT","x":1.0,"y":0.15},{"m":"VT","x":1.1,"y":0.14},{"m":"VT","x":1.2,"y":0.14},{"m":"VT","x":1.3,"y":0.21},{"m":"VT","x":1.4,"y":0.21},{"m":"VT","x":1.5,"y":0.27},{"m":"VT","x":1.6,"y":0.33},{"m":"VT","x":1.7,"y":0.41},{"m":"VT","x":1.8,"y":0.42},{"m":"VT","x":1.9,"y":0.36},{"m":"VT","x":2.0,"y":0.53},
{"m":"SKAT","x":0.1,"y":0.07},{"m":"SKAT","x":0.2,"y":0.08},{"m":"SKAT","x":0.3,"y":0.03},{"m":"SKAT","x":0.4,"y":0.06},{"m":"SKAT","x":0.5,"y":0.17},{"m":"SKAT","x":0.6,"y":0.15},{"m":"SKAT","x":0.7,"y":0.07},{"m":"SKAT","x":0.8,"y":0.15},{"m":"SKAT","x":0.9,"y":0.16},{"m":"SKAT","x":1.0,"y":0.25},{"m":"SKAT","x":1.1,"y":0.22},{"m":"SKAT","x":1.2,"y":0.19},{"m":"SKAT","x":1.3,"y":0.29},{"m":"SKAT","x":1.4,"y":0.39},{"m":"SKAT","x":1.5,"y":0.37},{"m":"SKAT","x":1.6,"y":0.49},{"m":"SKAT","x":1.7,"y":0.46},{"m":"SKAT","x":1.8,"y":0.56},{"m":"SKAT","x":1.9,"y":0.52},{"m":"SKAT","x":2.0,"y":0.54},
{"m":"SKAT-O","x":0.1,"y":0.11},{"m":"SKAT-O","x":0.2,"y":0.08},{"m":"SKAT-O","x":0.3,"y":0.08},{"m":"SKAT-O","x":0.4,"y":0.06},{"m":"SKAT-O","x":0.5,"y":0.20},{"m":"SKAT-O","x":0.6,"y":0.20},{"m":"SKAT-O","x":0.7,"y":0.08},{"m":"SKAT-O","x":0.8,"y":0.13},{"m":"SKAT-O","x":0.9,"y":0.17},{"m":"SKAT-O","x":1.0,"y":0.29},{"m":"SKAT-O","x":1.1,"y":0.32},{"m":"SKAT-O","x":1.2,"y":0.20},{"m":"SKAT-O","x":1.3,"y":0.41},{"m":"SKAT-O","x":1.4,"y":0.44},{"m":"SKAT-O","x":1.5,"y":0.52},{"m":"SKAT-O","x":1.6,"y":0.61},{"m":"SKAT-O","x":1.7,"y":0.64},{"m":"SKAT-O","x":1.8,"y":0.73},{"m":"SKAT-O","x":1.9,"y":0.67},{"m":"SKAT-O","x":2.0,"y":0.67}
],
"p8": [
{"m":"T1","x":0.1,"y":0.11},{"m":"T1","x":0.2,"y":0.09},{"m":"T1","x":0.3,"y":0.05},{"m":"T1","x":0.4,"y":0.07},{"m":"T1","x":0.5,"y":0.15},{"m":"T1","x":0.6,"y":0.16},{"m":"T1","x":0.7,"y":0.10},{"m":"T1","x":0.8,"y":0.08},{"m":"T1","x":0.9,"y":0.09},{"m":"T1","x":1.0,"y":0.13},{"m":"T1","x":1.1,"y":0.16},{"m":"T1","x":1.2,"y":0.19},{"m":"T1","x":1.3,"y":0.12},{"m":"T1","x":1.4,"y":0.23},{"m":"T1","x":1.5,"y":0.18},{"m":"T1","x":1.6,"y":0.17},{"m":"T1","x":1.7,"y":0.18},{"m":"T1","x":1.8,"y":0.28},{"m":"T1","x":1.9,"y":0.22},{"m":"T1","x":2.0,"y":0.34},
{"m":"T5","x":0.1,"y":0.08},{"m":"T5","x":0.2,"y":0.07},{"m":"T5","x":0.3,"y":0.03},{"m":"T5","x":0.4,"y":0.06},{"m":"T5","x":0.5,"y":0.12},{"m":"T5","x":0.6,"y":0.12},{"m":"T5","x":0.7,"y":0.10},{"m":"T5","x":0.8,"y":0.11},{"m":"T5","x":0.9,"y":0.15},{"m":"T5","x":1.0,"y":0.20},{"m":"T5","x":1.1,"y":0.15},{"m":"T5","x":1.2,"y":0.17},{"m":"T5","x":1.3,"y":0.23},{"m":"T5","x":1.4,"y":0.25},{"m":"T5","x":1.5,"y":0.31},{"m":"T5","x":1.6,"y":0.29},{"m":"T5","x":1.7,"y":0.35},{"m":"T5","x":1.8,"y":0.37},{"m":"T5","x":1.9,"y":0.39},{"m":"T5","x":2.0,"y":0.45},
{"m":"WSS","x":0.1,"y":0.09},{"m":"WSS","x":0.2,"y":0.06},{"m":"WSS","x":0.3,"y":0.01},{"m":"WSS","x":0.4,"y":0.05},{"m":"WSS","x":0.5,"y":0.10},{"m":"WSS","x":0.6,"y":0.11},{"m":"WSS","x":0.7,"y":0.10},{"m":"WSS","x":0.8,"y":0.09},{"m":"WSS","x":0.9,"y":0.10},{"m":"WSS","x":1.0,"y":0.14},{"m":"WSS","x":1.1,"y":0.15},{"m":"WSS","x":1.2,"y":0.13},{"m":"WSS","x":1.3,"y":0.18},{"m":"WSS","x":1.4,"y":0.17},{"m":"WSS","x":1.5,"y":0.20},{"m":"WSS","x":1.6,"y":0.26},{"m":"WSS","x":1.7,"y":0.31},{"m":"WSS","x":1.8,"y":0.32},{"m":"WSS","x":1.9,"y":0.25},{"m":"WSS","x":2.0,"y":0.35},
{"m":"VT","x":0.1,"y":0.09},{"m":"VT","x":0.2,"y":0.07},{"m":"VT","x":0.3,"y":0.02},{"m":"VT","x":0.4,"y":0.06},{"m":"VT","x":0.5,"y":0.13},{"m":"VT","x":0.6,"y":0.13},{"m":"VT","x":0.7,"y":0.08},{"m":"VT","x":0.8,"y":0.10},{"m":"VT","x":0.9,"y":0.13},{"m":"VT","x":1.0,"y":0.16},{"m":"VT","x":1.1,"y":0.15},{"m":"VT","x":1.2,"y":0.17},{"m":"VT","x":1.3,"y":0.24},{"m":"VT","x":1.4,"y":0.27},{"m":"VT","x":1.5,"y":0.27},{"m":"VT","x":1.6,"y":0.37},{"m":"VT","x":1.7,"y":0.39},{"m":"VT","x":1.8,"y":0.39},{"m":"VT","x":1.9,"y":0.43},{"m":"VT","x":2.0,"y":0.55},
{"m":"SKAT","x":0.1,"y":0.06},{"m":"SKAT","x":0.2,"y":0.07},{"m":"SKAT","x":0.3,"y":0.04},{"m":"SKAT","x":0.4,"y":0.08},{"m":"SKAT","x":0.5,"y":0.17},{"m":"SKAT","x":0.6,"y":0.22},{"m":"SKAT","x":0.7,"y":0.09},{"m":"SKAT","x":0.8,"y":0.15},{"m":"SKAT","x":0.9,"y":0.19},{"m":"SKAT","x":1.0,"y":0.24},{"m":"SKAT","x":1.1,"y":0.22},{"m":"SKAT","x":1.2,"y":0.25},{"m":"SKAT","x":1.3,"y":0.32},{"m":"SKAT","x":1.4,"y":0.38},{"m":"SKAT","x":1.5,"y":0.38},{"m":"SKAT","x":1.6,"y":0.49},{"m":"SKAT","x":1.7,"y":0.45},{"m":"SKAT","x":1.8,"y":0.60},{"m":"SKAT","x":1.9,"y":0.56},{"m":"SKAT","x":2.0,"y":0.61},
{"m":"SKAT-O","x":0.1,"y":0.10},{"m":"SKAT-O","x":0.2,"y":0.08},{"m":"SKAT-O","x":0.3,"y":0.08},{"m":"SKAT-O","x":0.4,"y":0.10},{"m":"SKAT-O","x":0.5,"y":0.18},{"m":"SKAT-O","x":0.6,"y":0.22},{"m":"SKAT-O","x":0.7,"y":0.12},{"m":"SKAT-O","x":0.8,"y":0.15},{"m":"SKAT-O","x":0.9,"y":0.21},{"m":"SKAT-O","x":1.0,"y":0.29},{"m":"SKAT-O","x":1.1,"y":0.30},{"m":"SKAT-O","x":1.2,"y":0.26},{"m":"SKAT-O","x":1.3,"y":0.42},{"m":"SKAT-O","x":1.4,"y":0.48},{"m":"SKAT-O","x":1.5,"y":0.52},{"m":"SKAT-O","x":1.6,"y":0.61},{"m":"SKAT-O","x":1.7,"y":0.60},{"m":"SKAT-O","x":1.8,"y":0.75},{"m":"SKAT-O","x":1.9,"y":0.67},{"m":"SKAT-O","x":2.0,"y":0.70}
]
},
"spacing": 40,
"resolve": {"legend": {"color": "independent"}},
"vconcat": [
{"spacing": 30.5, "resolve": {"legend": {"color": "independent"}}, "hconcat": [
{"data": {"name": "p1"}, "width": 212, "height": 168, "mark": {"type": "line"},
 "encoding": {
  "x": {"field": "x", "type": "quantitative", "title": "Mean effect", "scale": {"domain": [-0.08, 2.08], "nice": false, "zero": false}, "axis": {"grid": true, "values": [0,0.25,0.5,0.75,1,1.25,1.5,1.75,2], "labelExpr": "datum.value % 0.5 == 0 ? format(datum.value, '.1f') : ''", "tickOpacity": {"condition": {"test": "datum.value % 0.5 == 0", "value": 1}, "value": 0}, "gridColor": {"condition": {"test": "datum.value == 0", "value": "transparent"}, "value": "#808080"}}},
  "y": {"field": "y", "type": "quantitative", "title": "Power", "scale": {"domain": [-0.04, 1.04], "nice": false, "zero": false}, "axis": {"values": [0,0.2,0.25,0.4,0.5,0.6,0.75,0.8,1], "labelExpr": "indexof([0.25,0.5,0.75], datum.value) >= 0 ? '' : format(datum.value, '.1f')", "tickOpacity": {"condition": {"test": "indexof([0.25,0.5,0.75], datum.value) >= 0", "value": 0}, "value": 1}, "gridOpacity": {"condition": {"test": "indexof([0,0.25,0.5,0.75,1], datum.value) >= 0", "value": 1}, "value": 0}, "gridColor": {"condition": {"test": "datum.value <= 0.25", "value": "#222222"}, "value": "#909090"}}},
  "color": {"field": "m", "type": "nominal", "scale": {"domain": ["T1","T5","WSS","VT","SKAT","SKAT-O"], "range": ["#ff0000","#ffdb00","#49ff00","#00ff92","#0092ff","#4900ff"]}, "legend": {"orient": "top-left", "offset": 7, "title": null}}
 }},
{"data": {"name": "p2"}, "width": 212, "height": 168, "mark": {"type": "line"},
 "encoding": {
  "x": {"field": "x", "type": "quantitative", "title": "Mean effect", "scale": {"domain": [-0.08, 2.08], "nice": false, "zero": false}, "axis": {"grid": true, "values": [0,0.25,0.5,0.75,1,1.25,1.5,1.75,2], "labelExpr": "datum.value % 0.5 == 0 ? format(datum.value, '.1f') : ''", "tickOpacity": {"condition": {"test": "datum.value % 0.5 == 0", "value": 1}, "value": 0}, "gridColor": {"condition": {"test": "datum.value == 0", "value": "transparent"}, "value": "#808080"}}},
  "y": {"field": "y", "type": "quantitative", "title": "Power", "scale": {"domain": [-0.04, 1.04], "nice": false, "zero": false}, "axis": {"values": [0,0.2,0.25,0.4,0.5,0.6,0.75,0.8,1], "labelExpr": "indexof([0.25,0.5,0.75], datum.value) >= 0 ? '' : format(datum.value, '.1f')", "tickOpacity": {"condition": {"test": "indexof([0.25,0.5,0.75], datum.value) >= 0", "value": 0}, "value": 1}, "gridOpacity": {"condition": {"test": "indexof([0,0.25,0.5,0.75,1], datum.value) >= 0", "value": 1}, "value": 0}, "gridColor": {"condition": {"test": "datum.value <= 0.25", "value": "#222222"}, "value": "#909090"}}},
  "color": {"field": "m", "type": "nominal", "scale": {"domain": ["T1","T5","WSS","VT","SKAT","SKAT-O"], "range": ["#ff0000","#ffdb00","#49ff00","#00ff92","#0092ff","#4900ff"]}, "legend": {"orient": "top-left", "offset": 7, "title": null}}
 }},
{"data": {"name": "p3"}, "width": 212, "height": 168, "mark": {"type": "line"},
 "encoding": {
  "x": {"field": "x", "type": "quantitative", "title": "Mean effect", "scale": {"domain": [-0.08, 2.08], "nice": false, "zero": false}, "axis": {"grid": true, "values": [0,0.25,0.5,0.75,1,1.25,1.5,1.75,2], "labelExpr": "datum.value % 0.5 == 0 ? format(datum.value, '.1f') : ''", "tickOpacity": {"condition": {"test": "datum.value % 0.5 == 0", "value": 1}, "value": 0}, "gridColor": {"condition": {"test": "datum.value == 0", "value": "transparent"}, "value": "#808080"}}},
  "y": {"field": "y", "type": "quantitative", "title": "Power", "scale": {"domain": [-0.04, 1.04], "nice": false, "zero": false}, "axis": {"values": [0,0.2,0.25,0.4,0.5,0.6,0.75,0.8,1], "labelExpr": "indexof([0.25,0.5,0.75], datum.value) >= 0 ? '' : format(datum.value, '.1f')", "tickOpacity": {"condition": {"test": "indexof([0.25,0.5,0.75], datum.value) >= 0", "value": 0}, "value": 1}, "gridOpacity": {"condition": {"test": "indexof([0,0.25,0.5,0.75,1], datum.value) >= 0", "value": 1}, "value": 0}, "gridColor": {"condition": {"test": "datum.value <= 0.25", "value": "#222222"}, "value": "#909090"}}},
  "color": {"field": "m", "type": "nominal", "scale": {"domain": ["T1","T5","WSS","VT","SKAT","SKAT-O"], "range": ["#ff0000","#ffdb00","#49ff00","#00ff92","#0092ff","#4900ff"]}, "legend": {"orient": "top-left", "offset": 7, "title": null}}
 }},
{"data": {"name": "p4"}, "width": 212, "height": 168, "mark": {"type": "line"},
 "encoding": {
  "x": {"field": "x", "type": "quantitative", "title": "Mean effect", "scale": {"domain": [-0.08, 2.08], "nice": false, "zero": false}, "axis": {"grid": true, "values": [0,0.25,0.5,0.75,1,1.25,1.5,1.75,2], "labelExpr": "datum.value % 0.5 == 0 ? format(datum.value, '.1f') : ''", "tickOpacity": {"condition": {"test": "datum.value % 0.5 == 0", "value": 1}, "value": 0}, "gridColor": {"condition": {"test": "datum.value == 0", "value": "transparent"}, "value": "#808080"}}},
  "y": {"field": "y", "type": "quantitative", "title": "Power", "scale": {"domain": [-0.04, 1.04], "nice": false, "zero": false}, "axis": {"values": [0,0.2,0.25,0.4,0.5,0.6,0.75,0.8,1], "labelExpr": "indexof([0.25,0.5,0.75], datum.value) >= 0 ? '' : format(datum.value, '.1f')", "tickOpacity": {"condition": {"test": "indexof([0.25,0.5,0.75], datum.value) >= 0", "value": 0}, "value": 1}, "gridOpacity": {"condition": {"test": "indexof([0,0.25,0.5,0.75,1], datum.value) >= 0", "value": 1}, "value": 0}, "gridColor": {"condition": {"test": "datum.value <= 0.25", "value": "#222222"}, "value": "#909090"}}},
  "color": {"field": "m", "type": "nominal", "scale": {"domain": ["T1","T5","WSS","VT","SKAT","SKAT-O"], "range": ["#ff0000","#ffdb00","#49ff00","#00ff92","#0092ff","#4900ff"]}, "legend": {"orient": "top-left", "offset": 7, "title": null}}
 }}
]},
{"spacing": 30.5, "resolve": {"legend": {"color": "independent"}}, "hconcat": [
{"data": {"name": "p5"}, "title": "Het=0.5 Hsq=0.4", "width": 212, "height": 168, "mark": {"type": "line"},
 "encoding": {
  "x": {"field": "x", "type": "quantitative", "title": "Mean effect", "scale": {"domain": [-0.08, 2.08], "nice": false, "zero": false}, "axis": {"grid": true, "values": [0,0.25,0.5,0.75,1,1.25,1.5,1.75,2], "labelExpr": "datum.value % 0.5 == 0 ? format(datum.value, '.1f') : ''", "tickOpacity": {"condition": {"test": "datum.value % 0.5 == 0", "value": 1}, "value": 0}, "gridColor": {"condition": {"test": "datum.value == 0", "value": "transparent"}, "value": "#808080"}}},
  "y": {"field": "y", "type": "quantitative", "title": "Power", "scale": {"domain": [-0.04, 1.04], "nice": false, "zero": false}, "axis": {"values": [0,0.2,0.25,0.4,0.5,0.6,0.75,0.8,1], "labelExpr": "indexof([0.25,0.5,0.75], datum.value) >= 0 ? '' : format(datum.value, '.1f')", "tickOpacity": {"condition": {"test": "indexof([0.25,0.5,0.75], datum.value) >= 0", "value": 0}, "value": 1}, "gridOpacity": {"condition": {"test": "indexof([0,0.25,0.5,0.75,1], datum.value) >= 0", "value": 1}, "value": 0}, "gridColor": {"condition": {"test": "datum.value <= 0.25", "value": "#222222"}, "value": "#909090"}}},
  "color": {"field": "m", "type": "nominal", "scale": {"domain": ["T1","T5","WSS","VT","SKAT","SKAT-O"], "range": ["#ff0000","#ffdb00","#49ff00","#00ff92","#0092ff","#4900ff"]}, "legend": {"orient": "top-left", "offset": 7, "title": null}}
 }},
{"data": {"name": "p6"}, "title": "Het=0.5 Hsq=0.6", "width": 212, "height": 168, "mark": {"type": "line"},
 "encoding": {
  "x": {"field": "x", "type": "quantitative", "title": "Mean effect", "scale": {"domain": [-0.08, 2.08], "nice": false, "zero": false}, "axis": {"grid": true, "values": [0,0.25,0.5,0.75,1,1.25,1.5,1.75,2], "labelExpr": "datum.value % 0.5 == 0 ? format(datum.value, '.1f') : ''", "tickOpacity": {"condition": {"test": "datum.value % 0.5 == 0", "value": 1}, "value": 0}, "gridColor": {"condition": {"test": "datum.value == 0", "value": "transparent"}, "value": "#808080"}}},
  "y": {"field": "y", "type": "quantitative", "title": "Power", "scale": {"domain": [-0.04, 1.04], "nice": false, "zero": false}, "axis": {"values": [0,0.2,0.25,0.4,0.5,0.6,0.75,0.8,1], "labelExpr": "indexof([0.25,0.5,0.75], datum.value) >= 0 ? '' : format(datum.value, '.1f')", "tickOpacity": {"condition": {"test": "indexof([0.25,0.5,0.75], datum.value) >= 0", "value": 0}, "value": 1}, "gridOpacity": {"condition": {"test": "indexof([0,0.25,0.5,0.75,1], datum.value) >= 0", "value": 1}, "value": 0}, "gridColor": {"condition": {"test": "datum.value <= 0.25", "value": "#222222"}, "value": "#909090"}}},
  "color": {"field": "m", "type": "nominal", "scale": {"domain": ["T1","T5","WSS","VT","SKAT","SKAT-O"], "range": ["#ff0000","#ffdb00","#49ff00","#00ff92","#0092ff","#4900ff"]}, "legend": {"orient": "top-left", "offset": 7, "title": null}}
 }},
{"data": {"name": "p7"}, "title": "Het=0.5 Hsq=0.85", "width": 212, "height": 168, "mark": {"type": "line"},
 "encoding": {
  "x": {"field": "x", "type": "quantitative", "title": "Mean effect", "scale": {"domain": [-0.08, 2.08], "nice": false, "zero": false}, "axis": {"grid": true, "values": [0,0.25,0.5,0.75,1,1.25,1.5,1.75,2], "labelExpr": "datum.value % 0.5 == 0 ? format(datum.value, '.1f') : ''", "tickOpacity": {"condition": {"test": "datum.value % 0.5 == 0", "value": 1}, "value": 0}, "gridColor": {"condition": {"test": "datum.value == 0", "value": "transparent"}, "value": "#808080"}}},
  "y": {"field": "y", "type": "quantitative", "title": "Power", "scale": {"domain": [-0.04, 1.04], "nice": false, "zero": false}, "axis": {"values": [0,0.2,0.25,0.4,0.5,0.6,0.75,0.8,1], "labelExpr": "indexof([0.25,0.5,0.75], datum.value) >= 0 ? '' : format(datum.value, '.1f')", "tickOpacity": {"condition": {"test": "indexof([0.25,0.5,0.75], datum.value) >= 0", "value": 0}, "value": 1}, "gridOpacity": {"condition": {"test": "indexof([0,0.25,0.5,0.75,1], datum.value) >= 0", "value": 1}, "value": 0}, "gridColor": {"condition": {"test": "datum.value <= 0.25", "value": "#222222"}, "value": "#909090"}}},
  "color": {"field": "m", "type": "nominal", "scale": {"domain": ["T1","T5","WSS","VT","SKAT","SKAT-O"], "range": ["#ff0000","#ffdb00","#49ff00","#00ff92","#0092ff","#4900ff"]}, "legend": {"orient": "top-left", "offset": 7, "title": null}}
 }},
{"data": {"name": "p8"}, "title": "Het=0.5 Hsq=1", "width": 212, "height": 168, "mark": {"type": "line"},
 "encoding": {
  "x": {"field": "x", "type": "quantitative", "title": "Mean effect", "scale": {"domain": [-0.08, 2.08], "nice": false, "zero": false}, "axis": {"grid": true, "values": [0,0.25,0.5,0.75,1,1.25,1.5,1.75,2], "labelExpr": "datum.value % 0.5 == 0 ? format(datum.value, '.1f') : ''", "tickOpacity": {"condition": {"test": "datum.value % 0.5 == 0", "value": 1}, "value": 0}, "gridColor": {"condition": {"test": "datum.value == 0", "value": "transparent"}, "value": "#808080"}}},
  "y": {"field": "y", "type": "quantitative", "title": "Power", "scale": {"domain": [-0.04, 1.04], "nice": false, "zero": false}, "axis": {"values": [0,0.2,0.25,0.4,0.5,0.6,0.75,0.8,1], "labelExpr": "indexof([0.25,0.5,0.75], datum.value) >= 0 ? '' : format(datum.value, '.1f')", "tickOpacity": {"condition": {"test": "indexof([0.25,0.5,0.75], datum.value) >= 0", "value": 0}, "value": 1}, "gridOpacity": {"condition": {"test": "indexof([0,0.25,0.5,0.75,1], datum.value) >= 0", "value": 1}, "value": 0}, "gridColor": {"condition": {"test": "datum.value <= 0.25", "value": "#222222"}, "value": "#909090"}}},
  "color": {"field": "m", "type": "nominal", "scale": {"domain": ["T1","T5","WSS","VT","SKAT","SKAT-O"], "range": ["#ff0000","#ffdb00","#49ff00","#00ff92","#0092ff","#4900ff"]}, "legend": {"orient": "top-left", "offset": 7, "title": null}}
 }}
]}
],
"config": {
 "font": "Liberation Sans",
 "view": {"stroke": "#4d4dff", "strokeWidth": 2},
 "line": {"strokeWidth": 1.4, "opacity": 0.65},
 "axis": {"labelFont": "Liberation Sans", "labelFontSize": 11, "labelColor": "#333333", "titleFont": "Liberation Sans", "titleFontSize": 11, "titleFontWeight": "normal", "titleColor": "#222222", "tickColor": "#666666", "tickSize": 7, "domain": false, "grid": true, "gridDash": [1, 2], "gridWidth": 1, "labelOverlap": false, "labelFlush": false},
 "axisX": {"labelPadding": 8, "titlePadding": 19},
 "axisY": {"labelAngle": -90, "labelAlign": "center", "labelBaseline": "bottom", "labelPadding": 9, "titlePadding": 18},
 "title": {"font": "Liberation Sans", "fontSize": 14, "fontWeight": "bold", "color": "#111111", "offset": 17},
 "legend": {"strokeColor": "#555555", "strokeWidth": 1.5, "fillColor": "white", "padding": 6, "symbolType": "M-2,0L2,0", "symbolSize": 64, "symbolStrokeWidth": 1.5, "symbolOpacity": 0.65, "symbolOffset": 7, "labelOffset": 16, "labelFont": "Liberation Sans", "labelFontSize": 10, "labelColor": "#3a3aff", "rowPadding": 1.6}
}
}
